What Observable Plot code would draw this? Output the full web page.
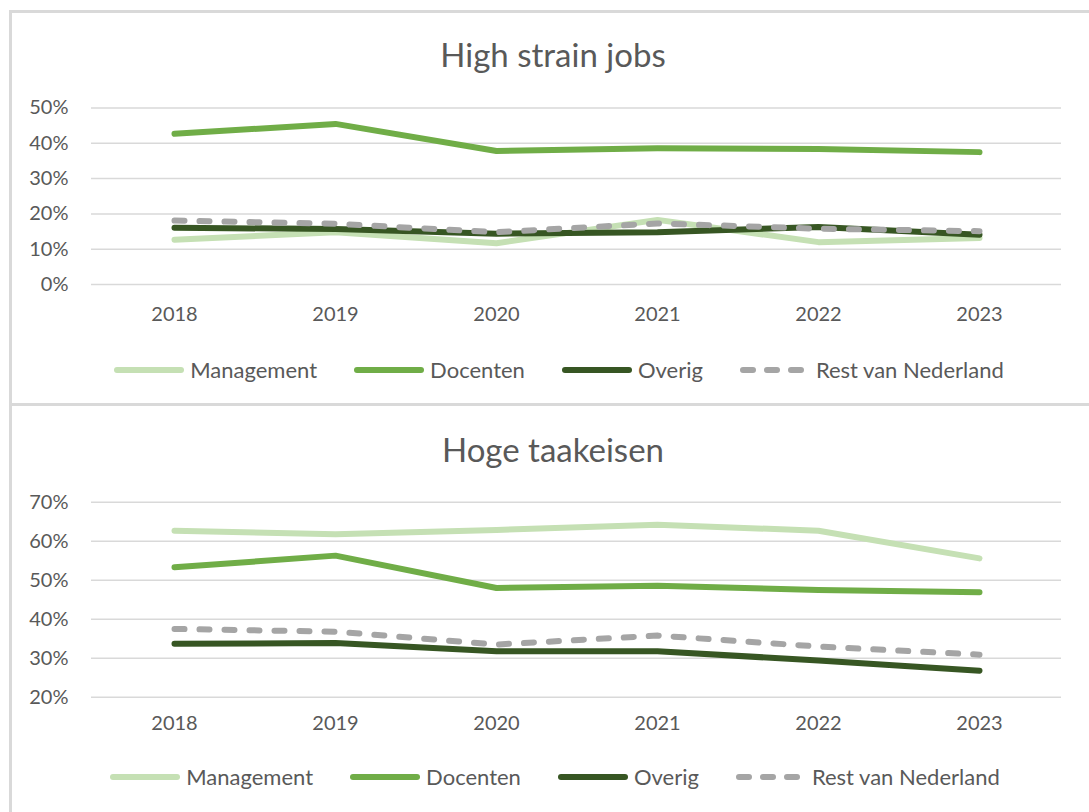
<!DOCTYPE html>
<html>
<head>
<meta charset="utf-8">
<script src="https://cdn.jsdelivr.net/npm/d3@7"></script>
<script src="https://cdn.jsdelivr.net/npm/@observablehq/plot@0.6"></script>
<style>
  html, body { margin: 0; padding: 0; background: #fff; }
  body { width: 1089px; height: 812px; position: relative; overflow: hidden; font-family: Lato, sans-serif; color: #595959; }
  .panel { position: absolute; left: 9px; width: 1100px; border-left: 3px solid #d9d9d9; border-top: 3px solid #d9d9d9; box-sizing: border-box; }
  .title { position: absolute; left: 0; width: 1106px; text-align: center; font-size: 33px; color: #595959; }
  .chart { position: absolute; left: 0; }
  .legend { position: absolute; width: 1089px; display: flex; justify-content: center; align-items: center; font-size: 22px; color: #595959; }
  .legend .item { display: flex; align-items: center; margin: 0 18px; }
  .legend svg { margin-right: 5px; }
</style>
</head>
<body>
<div class="panel" style="top:10px;height:396px;"></div>
<div class="panel" style="top:403px;height:420px;"></div>
<div class="title" style="top:34px;">High strain jobs</div>
<div class="title" style="top:429px;">Hoge taakeisen</div>
<div id="chart1" class="chart" style="top:90px;"></div>
<div id="chart2" class="chart" style="top:480px;"></div>
<div id="legend1" class="legend" style="top:356px;left:14px;"></div>
<div id="legend2" class="legend" style="top:763px;left:10px;"></div>
<script>
// ---- data ----
const years = [2018, 2019, 2020, 2021, 2022, 2023];
const seriesNames = ["Management", "Docenten", "Overig", "Rest van Nederland"];
const seriesColors = ["#c5e0b4", "#70ad47", "#375623", "#a5a5a5"];
const seriesDash = [null, null, null, "10,15"];

// High strain jobs (%)
const strainManagement = [12.7, 14.8, 11.7, 18.3, 12.0, 13.2];
const strainDocenten   = [42.7, 45.5, 37.8, 38.6, 38.4, 37.5];
const strainOverig     = [16.1, 15.7, 14.4, 14.8, 16.3, 14.1];
const strainRest       = [18.1, 17.2, 14.8, 17.3, 15.8, 15.1];
const strainTicks = [0, 10, 20, 30, 40, 50];

// Hoge taakeisen (%)
const taakManagement = [62.7, 61.8, 62.9, 64.2, 62.7, 55.6];
const taakDocenten   = [53.3, 56.3, 48.0, 48.6, 47.5, 46.9];
const taakOverig     = [33.7, 33.9, 31.8, 31.8, 29.4, 26.8];
const taakRest       = [37.5, 36.8, 33.5, 35.8, 33.0, 30.9];
const taakTicks = [20, 30, 40, 50, 60, 70];

function makeChart(seriesValues, ticks, height, marginTop, marginBottom, xPad) {
  const marks = [
    Plot.ruleY(ticks, {stroke: "#d9d9d9", strokeWidth: 1.5}),
    Plot.axisY({ticks, tickSize: 0, tickPadding: 23, tickFormat: d => d + "%", label: null}),
    Plot.axisX({tickSize: 0, tickPadding: xPad, label: null, tickFormat: d => String(d)})
  ];
  seriesValues.forEach((vals, i) => {
    const rows = years.map((y, j) => ({year: y, value: vals[j]}));
    marks.push(Plot.line(rows, {
      x: "year", y: "value",
      stroke: seriesColors[i], strokeWidth: 6,
      strokeLinecap: "round", strokeLinejoin: "round",
      strokeDasharray: seriesDash[i] || undefined
    }));
  });
  return Plot.plot({
    width: 1089, height,
    marginLeft: 91, marginRight: 28, marginTop, marginBottom,
    x: {type: "point", domain: years, padding: 0.5},
    y: {domain: [ticks[0], ticks[ticks.length - 1]]},
    style: {fontFamily: "Lato, sans-serif", fontSize: "20px", color: "#595959", background: "transparent", overflow: "visible"},
    marks
  });
}

document.getElementById("chart1").append(
  makeChart([strainManagement, strainDocenten, strainOverig, strainRest], strainTicks, 240, 17.5, 46, 22));
document.getElementById("chart2").append(
  makeChart([taakManagement, taakDocenten, taakOverig, taakRest], taakTicks, 260, 21.7, 43.3, 19));

function makeLegend(el) {
  seriesNames.forEach((name, i) => {
    const item = document.createElement("div");
    item.className = "item";
    const ns = "http://www.w3.org/2000/svg";
    const svg = document.createElementNS(ns, "svg");
    svg.setAttribute("width", 72); svg.setAttribute("height", 12);
    const ln = document.createElementNS(ns, "line");
    ln.setAttribute("x1", 4); ln.setAttribute("x2", 68);
    ln.setAttribute("y1", 6); ln.setAttribute("y2", 6);
    ln.setAttribute("stroke", seriesColors[i]);
    ln.setAttribute("stroke-width", 6);
    ln.setAttribute("stroke-linecap", "round");
    if (seriesDash[i]) ln.setAttribute("stroke-dasharray", "10,14");
    svg.append(ln);
    const t = document.createElement("span");
    t.textContent = name;
    item.append(svg, t);
    el.append(item);
  });
}
makeLegend(document.getElementById("legend1"));
makeLegend(document.getElementById("legend2"));
</script>
</body>
</html>
